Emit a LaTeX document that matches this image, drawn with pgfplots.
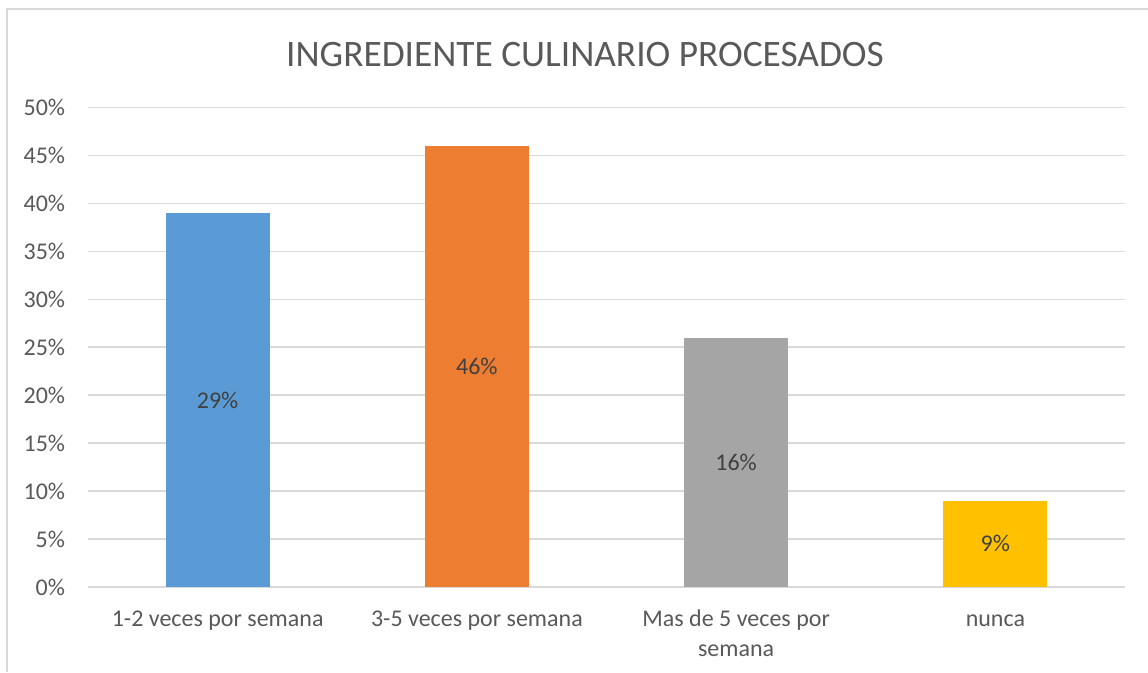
\documentclass[border=0pt]{standalone}
\usepackage{pgfplots}
\pgfplotsset{compat=1.18}
\usepackage{fontspec}
\setmainfont{Carlito}
\definecolor{gridgray}{HTML}{D9D9D9}
\definecolor{txtgray}{HTML}{595959}
\definecolor{lbl}{HTML}{404040}
\definecolor{cblue}{HTML}{5B9BD5}
\definecolor{corange}{HTML}{ED7D31}
\definecolor{cgray}{HTML}{A5A5A5}
\definecolor{cgold}{HTML}{FFC000}
\begin{document}
\begin{tikzpicture}[x=0.75pt,y=-0.75pt]
\path[use as bounding box] (0,0) rectangle (1148,672);
\draw[gridgray, line width=1.5pt] (7,672) -- (7,9) -- (1148,9);
\node[txtgray, font=\fontsize{28}{32}\selectfont, anchor=center] at (585,55) {INGREDIENTE CULINARIO PROCESADOS};
\begin{axis}[
    at={(66pt,-440.25pt)}, anchor=south west,
    scale only axis,
    width=777.75pt, height=359.8pt,
    xmin=-0.5, xmax=3.5,
    ymin=0, ymax=50,
    ytick={0,5,...,50},
    yticklabel={\pgfmathprintnumber{\tick}\%},
    xtick={0,1,2,3},
    xticklabels={\strut 1-2 veces por semana, \strut 3-5 veces por semana, {\strut Mas de 5 veces por\\semana}, \strut nunca},
    /pgf/number format/assume math mode=true,
    tick label style={font=\fontsize{18}{22}\selectfont, text=txtgray},
    xticklabel style={align=center, anchor=north, yshift=-11pt},
    yticklabel style={anchor=east, inner sep=0pt, xshift=-17pt},
    major tick length=0pt,
    axis line style={draw=none},
    ymajorgrids=true,
    grid style={gridgray, line width=1pt},
    ybar, bar width=78pt, bar shift=0pt,
    point meta=explicit symbolic,
    nodes near coords={\pgfplotspointmeta},
    visualization depends on=y \as \rawy,
    every node near coord/.append style={anchor=center, font=\fontsize{18}{22}\selectfont, text=lbl, shift={(axis direction cs:0,-\rawy/2)}},
]
\addplot[draw=none, fill=cblue] coordinates {(0,39) [29\%]};
\addplot[draw=none, fill=corange] coordinates {(1,46) [46\%]};
\addplot[draw=none, fill=cgray] coordinates {(2,26) [16\%]};
\addplot[draw=none, fill=cgold] coordinates {(3,9) [9\%]};
\end{axis}
\end{tikzpicture}
\end{document}
